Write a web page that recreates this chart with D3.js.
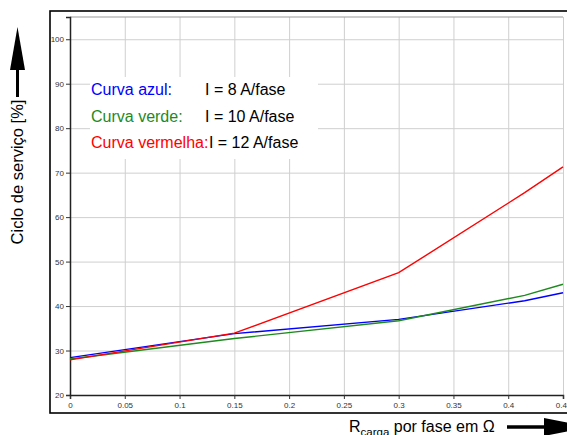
<!DOCTYPE html>
<html>
<head>
<meta charset="utf-8">
<script src="https://cdn.jsdelivr.net/npm/d3@7"></script>
<style>
  body { margin: 0; background: #fff; }
  svg { display: block; font-family: "Liberation Sans", Arial, sans-serif; }
</style>
</head>
<body>
<svg id="chart" width="567" height="435"></svg>
<script>
// values
const xValues = [0, 0.15, 0.3, 0.415, 0.45];
const blueValues = [28.4, 33.8, 37.0, 41.2, 43.0];
const greenValues = [28.1, 32.7, 36.7, 42.4, 44.9];
const redValues = [27.9, 33.9, 47.5, 65.5, 71.3];
const xTicks = [0, 0.05, 0.1, 0.15, 0.2, 0.25, 0.3, 0.35, 0.4, 0.45];
const yTicks = [20, 30, 40, 50, 60, 70, 80, 90, 100];
const legendLabels = ['Curva azul:', 'Curva verde:', 'Curva vermelha:'];
const legendValues = ['I = 8 A/fase', 'I = 10 A/fase', 'I = 12 A/fase'];
const colors = ['#0000ff', '#1e8a1e', '#ff0000'];

const svg = d3.select('#chart');
const margins = { left: 70, top: 17, right: 4, bottom: 40 };
const width = +svg.attr('width');
const height = +svg.attr('height');

const x = d3.scaleLinear().domain([0, 0.45]).range([margins.left, width - margins.right]);
const y = d3.scaleLinear().domain([20, 105]).range([height - margins.bottom, margins.top]);

// outer frame
svg.append('rect')
  .attr('x', 50).attr('y', 11)
  .attr('width', 540).attr('height', 402)
  .style('fill', 'none').style('stroke', '#000').style('stroke-width', 1.6);

// gridlines
svg.append('g')
  .attr('transform', `translate(0,${y(20)})`)
  .call(d3.axisBottom(x).tickValues(xTicks).tickSize(-(y(20) - y(105))).tickFormat(''))
  .call(g => g.select('.domain').remove())
  .selectAll('line').style('stroke', '#cfcfcf');
svg.append('g')
  .attr('transform', `translate(${x(0)},0)`)
  .call(d3.axisLeft(y).tickValues(yTicks).tickSize(-(x(0.45) - x(0))).tickFormat(''))
  .call(g => g.select('.domain').remove())
  .selectAll('line').style('stroke', '#cfcfcf');

// plot border top
svg.append('line')
  .attr('x1', x(0)).attr('x2', x(0.45))
  .attr('y1', y(105)).attr('y2', y(105))
  .style('stroke', '#999');

// legend background
svg.append('rect')
  .attr('x', 90).attr('y', 77)
  .attr('width', 228).attr('height', 82)
  .style('fill', '#fff');

// axes
const bottomAxis = svg.append('g')
  .attr('transform', `translate(0,${y(20)})`)
  .call(d3.axisBottom(x).tickValues(xTicks).tickSize(4).tickFormat(d => d3.format('')(+d.toFixed(2))));
const leftAxis = svg.append('g')
  .attr('transform', `translate(${x(0)},0)`)
  .call(d3.axisLeft(y).tickValues(yTicks).tickSize(4));
[bottomAxis, leftAxis].forEach(a => {
  a.select('.domain').style('stroke', '#222').style('stroke-width', 1.5);
  a.selectAll('.tick line').style('stroke', '#333');
  a.selectAll('text').style('font-size', '8px').style('fill', '#333')
    .style('font-family', '"Liberation Sans", Arial, sans-serif');
});
leftAxis.selectAll('text').attr('x', -6);

// curves
const line = d3.line().x((d, i) => x(xValues[i])).y(d => y(d));
[blueValues, greenValues, redValues].forEach((series, i) => {
  svg.append('path')
    .datum(series)
    .attr('d', line)
    .style('fill', 'none')
    .style('stroke', colors[i])
    .style('stroke-width', 1.4);
});

// legend text
legendLabels.forEach((label, i) => {
  const t = svg.append('text')
    .attr('x', 91).attr('y', 95 + i * 26.5)
    .style('font-size', '16px')
    .style('fill', colors[i])
    .text(label);
  const len = t.node().getComputedTextLength();
  svg.append('text')
    .attr('x', Math.max(205, 91 + len + 0.5)).attr('y', 95 + i * 26.5)
    .style('font-size', '16px')
    .style('fill', '#000')
    .text(legendValues[i]);
});

// y axis title with arrow
svg.append('text')
  .attr('transform', 'translate(23,172) rotate(-90)')
  .attr('text-anchor', 'middle')
  .style('font-size', '16.5px')
  .text('Ciclo de serviço [%]');
svg.append('line')
  .attr('x1', 17.5).attr('x2', 17.5)
  .attr('y1', 97).attr('y2', 66)
  .style('stroke', '#000').style('stroke-width', 3);
svg.append('path')
  .attr('d', 'M17.5,27 L25,70 L10,70 Z')
  .style('fill', '#000');

// x axis title with arrow
const xTitle = svg.append('text')
  .attr('x', 349).attr('y', 432)
  .style('font-size', '16px');
xTitle.append('tspan').text('R');
xTitle.append('tspan').attr('dy', 4).style('font-size', '11.5px').text('carga');
xTitle.append('tspan').attr('dy', -4).text(' por fase em Ω');
svg.append('line')
  .attr('x1', 507).attr('x2', 548)
  .attr('y1', 427).attr('y2', 427)
  .style('stroke', '#000').style('stroke-width', 3.5);
svg.append('path')
  .attr('d', 'M544,418 L590,427 L544,436 Z')
  .style('fill', '#000');
</script>
</body>
</html>
